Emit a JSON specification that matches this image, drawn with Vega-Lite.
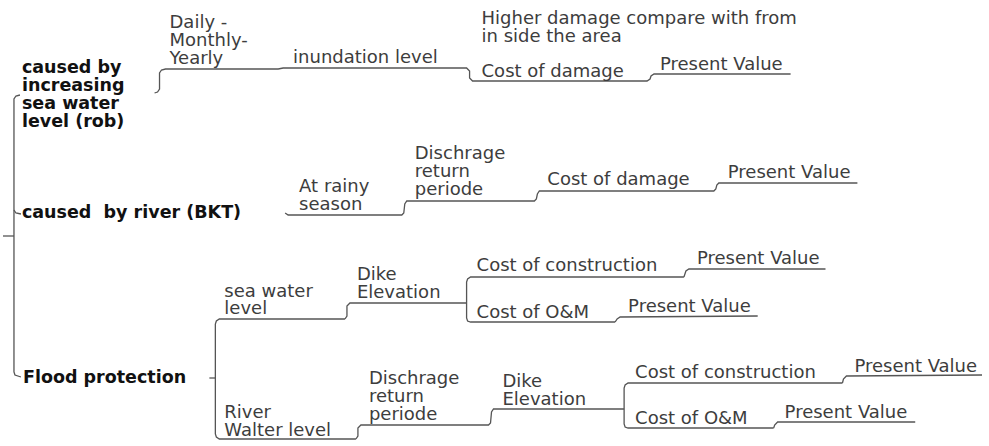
{
  "$schema": "https://vega.github.io/schema/vega-lite/v6.json",
  "width": 989,
  "height": 446,
  "autosize": {"type": "fit", "contains": "padding"},
  "padding": 0,
  "background": "white",
  "config": {"view": {"stroke": null}},
  "datasets": {
    "links": [
      {"seg": "root0", "i": 0, "x": 0, "y": 236}, {"seg": "root0", "i": 1, "x": 11, "y": 236},
      {"seg": "root", "i": 0, "x": 17, "y": 95}, {"seg": "root", "i": 1, "x": 13, "y": 96}, {"seg": "root", "i": 2, "x": 11, "y": 99}, {"seg": "root", "i": 3, "x": 11, "y": 372}, {"seg": "root", "i": 4, "x": 12, "y": 375}, {"seg": "root", "i": 5, "x": 18, "y": 377},
      {"seg": "rootb", "i": 0, "x": 11, "y": 210}, {"seg": "rootb", "i": 1, "x": 13, "y": 213}, {"seg": "rootb", "i": 2, "x": 18, "y": 214},
      {"seg": "b1", "i": 0, "x": 152, "y": 93}, {"seg": "b1", "i": 1, "x": 155, "y": 92}, {"seg": "b1", "i": 2, "x": 157, "y": 89}, {"seg": "b1", "i": 3, "x": 157, "y": 73}, {"seg": "b1", "i": 4, "x": 159, "y": 70}, {"seg": "b1", "i": 5, "x": 163, "y": 69}, {"seg": "b1", "i": 6, "x": 276, "y": 69}, {"seg": "b1", "i": 7, "x": 281, "y": 68}, {"seg": "b1", "i": 8, "x": 465, "y": 68}, {"seg": "b1", "i": 9, "x": 468, "y": 71}, {"seg": "b1", "i": 10, "x": 468, "y": 78}, {"seg": "b1", "i": 11, "x": 471, "y": 81}, {"seg": "b1", "i": 12, "x": 646, "y": 81}, {"seg": "b1", "i": 13, "x": 649, "y": 79}, {"seg": "b1", "i": 14, "x": 650, "y": 76}, {"seg": "b1", "i": 15, "x": 653, "y": 74}, {"seg": "b1", "i": 16, "x": 790, "y": 74},
      {"seg": "b2", "i": 0, "x": 283, "y": 213}, {"seg": "b2", "i": 1, "x": 286, "y": 215}, {"seg": "b2", "i": 2, "x": 400, "y": 215}, {"seg": "b2", "i": 3, "x": 402, "y": 213}, {"seg": "b2", "i": 4, "x": 403, "y": 204}, {"seg": "b2", "i": 5, "x": 405, "y": 201}, {"seg": "b2", "i": 6, "x": 533, "y": 201}, {"seg": "b2", "i": 7, "x": 535, "y": 199}, {"seg": "b2", "i": 8, "x": 536, "y": 194}, {"seg": "b2", "i": 9, "x": 538, "y": 191}, {"seg": "b2", "i": 10, "x": 713, "y": 191}, {"seg": "b2", "i": 11, "x": 715, "y": 189}, {"seg": "b2", "i": 12, "x": 716, "y": 185}, {"seg": "b2", "i": 13, "x": 718, "y": 183}, {"seg": "b2", "i": 14, "x": 857, "y": 183},
      {"seg": "b3s", "i": 0, "x": 207, "y": 378}, {"seg": "b3s", "i": 1, "x": 213, "y": 378},
      {"seg": "b3v", "i": 0, "x": 343, "y": 319}, {"seg": "b3v", "i": 1, "x": 217, "y": 319}, {"seg": "b3v", "i": 2, "x": 214, "y": 321}, {"seg": "b3v", "i": 3, "x": 213, "y": 324}, {"seg": "b3v", "i": 4, "x": 213, "y": 434}, {"seg": "b3v", "i": 5, "x": 214, "y": 437}, {"seg": "b3v", "i": 6, "x": 217, "y": 439}, {"seg": "b3v", "i": 7, "x": 354, "y": 439},
      {"seg": "sw", "i": 0, "x": 343, "y": 319}, {"seg": "sw", "i": 1, "x": 345, "y": 316}, {"seg": "sw", "i": 2, "x": 345, "y": 306}, {"seg": "sw", "i": 3, "x": 348, "y": 303}, {"seg": "sw", "i": 4, "x": 465, "y": 303},
      {"seg": "br2", "i": 0, "x": 683, "y": 277}, {"seg": "br2", "i": 1, "x": 469, "y": 277}, {"seg": "br2", "i": 2, "x": 466, "y": 279}, {"seg": "br2", "i": 3, "x": 465, "y": 282}, {"seg": "br2", "i": 4, "x": 465, "y": 318}, {"seg": "br2", "i": 5, "x": 466, "y": 321}, {"seg": "br2", "i": 6, "x": 469, "y": 322}, {"seg": "br2", "i": 7, "x": 614, "y": 322},
      {"seg": "pv1", "i": 0, "x": 683, "y": 277}, {"seg": "pv1", "i": 1, "x": 684, "y": 274}, {"seg": "pv1", "i": 2, "x": 685, "y": 271}, {"seg": "pv1", "i": 3, "x": 688, "y": 269}, {"seg": "pv1", "i": 4, "x": 825, "y": 269},
      {"seg": "pv2", "i": 0, "x": 614, "y": 322}, {"seg": "pv2", "i": 1, "x": 616, "y": 319}, {"seg": "pv2", "i": 2, "x": 619, "y": 317}, {"seg": "pv2", "i": 3, "x": 757, "y": 316},
      {"seg": "rw", "i": 0, "x": 354, "y": 439}, {"seg": "rw", "i": 1, "x": 356, "y": 436}, {"seg": "rw", "i": 2, "x": 356, "y": 428}, {"seg": "rw", "i": 3, "x": 359, "y": 425}, {"seg": "rw", "i": 4, "x": 487, "y": 425}, {"seg": "rw", "i": 5, "x": 489, "y": 423}, {"seg": "rw", "i": 6, "x": 490, "y": 412}, {"seg": "rw", "i": 7, "x": 492, "y": 409}, {"seg": "rw", "i": 8, "x": 623, "y": 409},
      {"seg": "br3", "i": 0, "x": 842, "y": 383}, {"seg": "br3", "i": 1, "x": 627, "y": 383}, {"seg": "br3", "i": 2, "x": 624, "y": 385}, {"seg": "br3", "i": 3, "x": 623, "y": 388}, {"seg": "br3", "i": 4, "x": 623, "y": 424}, {"seg": "br3", "i": 5, "x": 624, "y": 427}, {"seg": "br3", "i": 6, "x": 627, "y": 428}, {"seg": "br3", "i": 7, "x": 773, "y": 428},
      {"seg": "pv3", "i": 0, "x": 842, "y": 383}, {"seg": "pv3", "i": 1, "x": 843, "y": 379}, {"seg": "pv3", "i": 2, "x": 846, "y": 376}, {"seg": "pv3", "i": 3, "x": 982, "y": 375},
      {"seg": "pv4", "i": 0, "x": 773, "y": 428}, {"seg": "pv4", "i": 1, "x": 774, "y": 425}, {"seg": "pv4", "i": 2, "x": 777, "y": 422}, {"seg": "pv4", "i": 3, "x": 915, "y": 422}
    ],
    "labels": [
      {"kind": "topic", "x": 19, "y": 68, "text": "caused by"},
      {"kind": "topic", "x": 19, "y": 86, "text": "increasing"},
      {"kind": "topic", "x": 19, "y": 104, "text": "sea water"},
      {"kind": "topic", "x": 19, "y": 122, "text": "level (rob)"},
      {"kind": "topic", "x": 19, "y": 213, "text": "caused\u00a0 by river (BKT)"},
      {"kind": "topic", "x": 20, "y": 378, "text": "Flood protection"},
      {"kind": "sub", "x": 167, "y": 23, "text": "Daily -"},
      {"kind": "sub", "x": 167, "y": 41, "text": "Monthly-"},
      {"kind": "sub", "x": 167, "y": 59, "text": "Yearly"},
      {"kind": "sub", "x": 291, "y": 58, "text": "inundation level"},
      {"kind": "sub", "x": 480, "y": 19, "text": "Higher damage compare with from"},
      {"kind": "sub", "x": 480, "y": 37, "text": "in side the area"},
      {"kind": "sub", "x": 480, "y": 72, "text": "Cost of damage"},
      {"kind": "sub", "x": 659, "y": 65, "text": "Present Value"},
      {"kind": "sub", "x": 297, "y": 187, "text": "At rainy"},
      {"kind": "sub", "x": 297, "y": 205, "text": "season"},
      {"kind": "sub", "x": 413, "y": 154, "text": "Dischrage"},
      {"kind": "sub", "x": 413, "y": 172, "text": "return"},
      {"kind": "sub", "x": 413, "y": 190, "text": "periode"},
      {"kind": "sub", "x": 546, "y": 180, "text": "Cost of damage"},
      {"kind": "sub", "x": 727, "y": 173, "text": "Present Value"},
      {"kind": "sub", "x": 222, "y": 292, "text": "sea water"},
      {"kind": "sub", "x": 222, "y": 309, "text": "level"},
      {"kind": "sub", "x": 355, "y": 275, "text": "Dike"},
      {"kind": "sub", "x": 355, "y": 293, "text": "Elevation"},
      {"kind": "sub", "x": 475, "y": 266, "text": "Cost of construction"},
      {"kind": "sub", "x": 475, "y": 313, "text": "Cost of O&M"},
      {"kind": "sub", "x": 696, "y": 259, "text": "Present Value"},
      {"kind": "sub", "x": 627, "y": 307, "text": "Present Value"},
      {"kind": "sub", "x": 222, "y": 413, "text": "River"},
      {"kind": "sub", "x": 222, "y": 431, "text": "Walter level"},
      {"kind": "sub", "x": 367, "y": 379, "text": "Dischrage"},
      {"kind": "sub", "x": 367, "y": 397, "text": "return"},
      {"kind": "sub", "x": 367, "y": 415, "text": "periode"},
      {"kind": "sub", "x": 501, "y": 382, "text": "Dike"},
      {"kind": "sub", "x": 501, "y": 400, "text": "Elevation"},
      {"kind": "sub", "x": 634, "y": 373, "text": "Cost of construction"},
      {"kind": "sub", "x": 634, "y": 419, "text": "Cost of O&M"},
      {"kind": "sub", "x": 854, "y": 367, "text": "Present Value"},
      {"kind": "sub", "x": 784, "y": 413, "text": "Present Value"}
    ]
  },
  "layer": [
    {
      "data": {"name": "links"},
      "mark": {"type": "line", "color": "#555555", "strokeWidth": 1.3},
      "encoding": {
        "x": {"field": "x", "type": "quantitative", "scale": {"domain": [0, 989], "nice": false, "zero": false}, "axis": null},
        "y": {"field": "y", "type": "quantitative", "scale": {"domain": [0, 446], "nice": false, "zero": false, "reverse": true}, "axis": null},
        "detail": {"field": "seg", "type": "nominal"},
        "order": {"field": "i", "type": "quantitative"}
      }
    },
    {
      "data": {"name": "labels"},
      "transform": [{"filter": "datum.kind === 'sub'"}],
      "mark": {"type": "text", "align": "left", "baseline": "middle", "font": "DejaVu Sans", "fontSize": 18, "color": "#3d3d3d"},
      "encoding": {
        "x": {"field": "x", "type": "quantitative"},
        "y": {"field": "y", "type": "quantitative"},
        "text": {"field": "text", "type": "nominal"}
      }
    },
    {
      "data": {"name": "labels"},
      "transform": [{"filter": "datum.kind === 'topic'"}],
      "mark": {"type": "text", "align": "left", "baseline": "middle", "font": "DejaVu Sans", "fontSize": 17.5, "fontWeight": "bold", "color": "#111111"},
      "encoding": {
        "x": {"field": "x", "type": "quantitative"},
        "y": {"field": "y", "type": "quantitative"},
        "text": {"field": "text", "type": "nominal"}
      }
    }
  ]
}
